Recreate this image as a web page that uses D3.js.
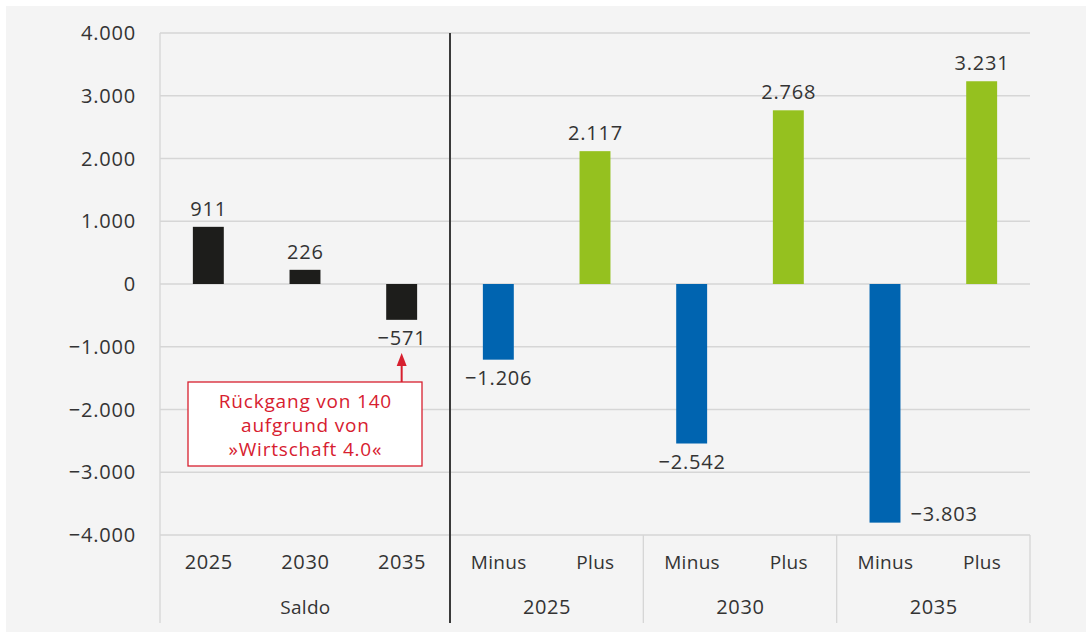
<!DOCTYPE html>
<html><head><meta charset="utf-8">
<script src="https://cdn.jsdelivr.net/npm/d3@7"></script>
<style>body{margin:0;background:#fff}svg{display:block}text{font-family:"Open Sans",sans-serif;fill:#333}</style>
</head><body><svg id="c" width="1086" height="637"></svg>
<script>
const keys = ["S2025","S2030","S2035","M2025","P2025","M2030","P2030","M2035","P2035"];
const catLabels = ["2025","2030","2035","Minus","Plus","Minus","Plus","Minus","Plus"];
const values = [911,226,-571,-1206,2117,-2542,2768,-3803,3231];
const kinds = ["saldo","saldo","saldo","minus","plus","minus","plus","minus","plus"];
const groups = [{label:"Saldo",from:0,to:3},{label:"2025",from:3,to:5},{label:"2030",from:5,to:7},{label:"2035",from:7,to:9}];
const yTicks = [4000,3000,2000,1000,0,-1000,-2000,-3000,-4000];
const annotation = ["Rückgang von 140","aufgrund von","»Wirtschaft 4.0«"];

const colors = {saldo:"#1d1d1b", minus:"#0064b0", plus:"#95c11f"};
const loc = d3.formatLocale({decimal:",",thousands:".",grouping:[3],currency:["","€"],minus:"\u2212"});
const fmt = loc.format(",d");
const isNum = s => /^[\d.\u2212-]+$/.test(s);

const svg = d3.select("#c");
svg.append("rect").attr("x",6).attr("y",6).attr("width",1080).attr("height",626).attr("fill","#f4f4f4");

const L=160,R=1030,T=33,B=535;
const x = d3.scaleBand().domain(keys).range([L,R]).paddingInner(0.68).paddingOuter(0.34);
const y = d3.scaleLinear().domain([-4000,4000]).range([B,T]);
const step = x.step();

function styleText(sel){
  sel.attr("font-size",d=>20).style("letter-spacing","0.8px");
}

// grid
svg.append("g").selectAll("line").data(yTicks).join("line")
  .attr("x1",L).attr("x2",R).attr("y1",d=>y(d)).attr("y2",d=>y(d))
  .attr("stroke","#d6d6d6").attr("stroke-width",1.3);
// y labels
svg.append("g").selectAll("text").data(yTicks).join("text")
  .attr("x",136).attr("y",d=>y(d)).attr("dy","0.35em").attr("text-anchor","end")
  .attr("font-size",20).style("letter-spacing","0.8px").text(d=>fmt(d));

// left axis line
svg.append("line").attr("x1",L).attr("x2",L).attr("y1",T).attr("y2",623).attr("stroke","#d6d6d6").attr("stroke-width",1.3);
// group separators
groups.forEach((g,i)=>{
  const xe = L + g.to*step;
  if(i===0){
    svg.append("line").attr("x1",xe).attr("x2",xe).attr("y1",T).attr("y2",623).attr("stroke","#3a3a3a").attr("stroke-width",2);
  } else {
    svg.append("line").attr("x1",xe).attr("x2",xe).attr("y1",B).attr("y2",623).attr("stroke","#d6d6d6").attr("stroke-width",1.3);
  }
  svg.append("text").attr("x",L+(g.from+g.to)/2*step+0.4).attr("y",607).attr("dy","0.35em")
    .attr("text-anchor","middle")
    .attr("font-size",isNum(g.label)?20:19).style("letter-spacing",isNum(g.label)?"0.6px":"0.3px")
    .text(g.label);
});
// category labels
svg.append("g").selectAll("text").data(keys).join("text")
  .attr("x",d=>x(d)+x.bandwidth()/2+0.4).attr("y",562).attr("dy","0.35em")
  .attr("text-anchor","middle")
  .attr("font-size",(d,i)=>isNum(catLabels[i])?20:19)
  .style("letter-spacing",(d,i)=>isNum(catLabels[i])?"0.6px":"0.3px")
  .text((d,i)=>catLabels[i]);

// bars
svg.append("g").selectAll("rect").data(keys).join("rect")
  .attr("x",d=>x(d)).attr("width",x.bandwidth())
  .attr("y",(d,i)=>y(Math.max(0,values[i])))
  .attr("height",(d,i)=>Math.abs(y(values[i])-y(0)))
  .attr("fill",(d,i)=>colors[kinds[i]]);

// value labels
svg.append("g").selectAll("text").data(keys).join("text")
  .attr("font-size",20).style("letter-spacing","0.8px")
  .attr("text-anchor",(d,i)=>i===7?"start":"middle")
  .attr("x",(d,i)=>i===7? x(d)+x.bandwidth()+10 : x(d)+x.bandwidth()/2+0.4)
  .attr("y",(d,i)=>{const v=values[i]; if(i===7) return y(v)-9; return v>=0? y(v)-18 : y(v)+18;})
  .attr("dy","0.35em")
  .text((d,i)=>fmt(values[i]));

// annotation
const red="#d7202f";
const ax = x("S2035")+x.bandwidth()/2;
svg.append("rect").attr("x",188).attr("y",382).attr("width",234).attr("height",84)
  .attr("fill","#fff").attr("stroke",red).attr("stroke-width",1.3);
svg.append("line").attr("x1",ax).attr("x2",ax).attr("y1",382).attr("y2",364).attr("stroke",red).attr("stroke-width",2);
svg.append("path").attr("d",`M${ax-5},${366}L${ax+5},${366}L${ax},${353}Z`).attr("fill",red);
svg.append("g").selectAll("text").data(annotation).join("text")
  .attr("x",305.4).attr("y",(d,i)=>401+i*24).attr("dy","0.35em").attr("text-anchor","middle")
  .attr("font-size",19).style("letter-spacing","0.8px").style("fill",red).text(d=>d);
</script></body></html>
